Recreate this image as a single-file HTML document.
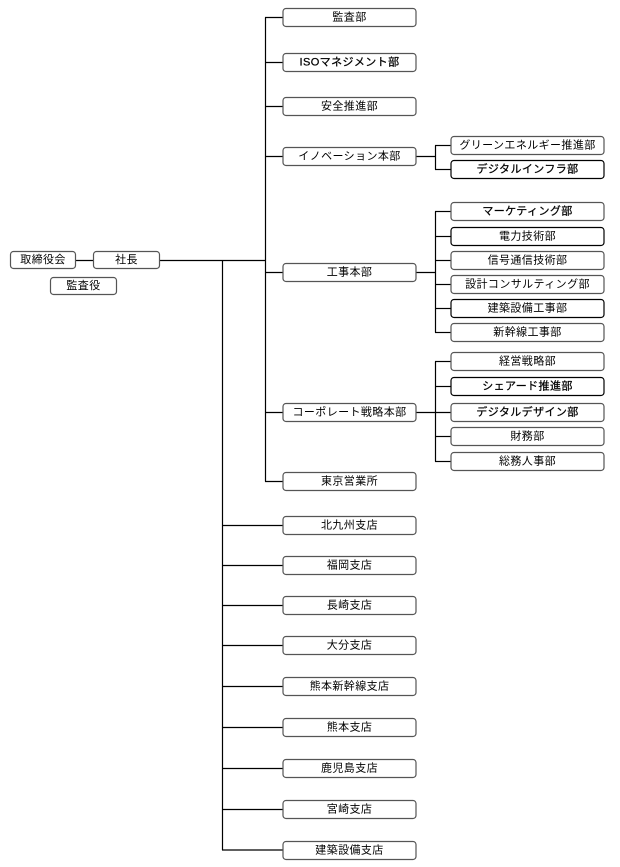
<!DOCTYPE html>
<html><head><meta charset="utf-8"><style>
html,body{margin:0;padding:0;background:#fff;}
svg{display:block;}
text{font-family:"Liberation Sans","Noto Sans CJK JP",sans-serif;font-size:11px;fill:#000;text-anchor:middle;dominant-baseline:central;letter-spacing:0.4px;}
text.b{stroke:#000;stroke-width:0.25;}
rect{fill:#fff;stroke:#555;stroke-width:1.2;}
line,path{stroke:#000;stroke-width:1.2;fill:none;}
</style></head><body>
<svg width="620" height="867" viewBox="0 0 620 867">
<line x1="76" y1="260.5" x2="93" y2="260.5"/>
<line x1="160" y1="260.5" x2="265.5" y2="260.5"/>
<line x1="222.5" y1="260.5" x2="222.5" y2="850"/>
<line x1="265.5" y1="17.5" x2="265.5" y2="481.5"/>
<g>
<line x1="265" y1="17.5" x2="283" y2="17.5"/>
<line x1="265" y1="62.5" x2="283" y2="62.5"/>
<line x1="265" y1="106.5" x2="283" y2="106.5"/>
<line x1="265" y1="156.5" x2="283" y2="156.5"/>
<line x1="265" y1="272.5" x2="283" y2="272.5"/>
<line x1="265" y1="412.5" x2="283" y2="412.5"/>
<line x1="265" y1="481.5" x2="283" y2="481.5"/>
</g>
<g>
<line x1="222" y1="525.5" x2="283" y2="525.5"/>
<line x1="222" y1="565.5" x2="283" y2="565.5"/>
<line x1="222" y1="605.5" x2="283" y2="605.5"/>
<line x1="222" y1="645.5" x2="283" y2="645.5"/>
<line x1="222" y1="686.5" x2="283" y2="686.5"/>
<line x1="222" y1="727.5" x2="283" y2="727.5"/>
<line x1="222" y1="768.5" x2="283" y2="768.5"/>
<line x1="222" y1="809.5" x2="283" y2="809.5"/>
<line x1="222" y1="850" x2="283" y2="850"/>
</g>
<line x1="416" y1="156.5" x2="435.5" y2="156.5"/>
<line x1="435.5" y1="145.5" x2="435.5" y2="169.5"/>
<line x1="435" y1="145.5" x2="451" y2="145.5"/>
<line x1="435" y1="169.5" x2="451" y2="169.5"/>
<line x1="416" y1="272.5" x2="435.5" y2="272.5"/>
<line x1="435.5" y1="211.5" x2="435.5" y2="332.5"/>
<line x1="435" y1="211.5" x2="451" y2="211.5"/>
<line x1="435" y1="236.5" x2="451" y2="236.5"/>
<line x1="435" y1="260.5" x2="451" y2="260.5"/>
<line x1="435" y1="284.5" x2="451" y2="284.5"/>
<line x1="435" y1="308.5" x2="451" y2="308.5"/>
<line x1="435" y1="332.5" x2="451" y2="332.5"/>
<line x1="416" y1="412.5" x2="451" y2="412.5"/>
<line x1="435.5" y1="361.5" x2="435.5" y2="461.5"/>
<line x1="435" y1="361.5" x2="451" y2="361.5"/>
<line x1="435" y1="386.5" x2="451" y2="386.5"/>
<line x1="435" y1="436.5" x2="451" y2="436.5"/>
<line x1="435" y1="461.5" x2="451" y2="461.5"/>

<rect x="10.5" y="251.5" width="65" height="17" rx="3"/><text x="43" y="260">取締役会</text>
<rect x="93.5" y="251.5" width="66" height="17" rx="3"/><text x="126.5" y="260">社長</text>
<rect x="50.5" y="277.5" width="66" height="17" rx="3"/><text x="83.5" y="286">監査役</text>

<g>
<rect x="283" y="8.5" width="133" height="18" rx="3"/><text x="349.5" y="17.5">監査部</text>
<rect x="283" y="53.5" width="133" height="18" rx="3"/><text x="349.5" y="62.5" class="b">ISOマネジメント部</text>
<rect x="283" y="97.5" width="133" height="18" rx="3"/><text x="349.5" y="106.5">安全推進部</text>
<rect x="283" y="147.5" width="133" height="18" rx="3"/><text x="349.5" y="156.5">イノベーション本部</text>
<rect x="283" y="263.5" width="133" height="18" rx="3"/><text x="349.5" y="272.5">工事本部</text>
<rect x="283" y="403.5" width="133" height="18" rx="3"/><text x="349.5" y="412.5">コーポレート戦略本部</text>
<rect x="283" y="472.5" width="133" height="18" rx="3"/><text x="349.5" y="481.5">東京営業所</text>
<rect x="283" y="516.5" width="133" height="18" rx="3"/><text x="349.5" y="525.5">北九州支店</text>
<rect x="283" y="556.5" width="133" height="18" rx="3"/><text x="349.5" y="565.5">福岡支店</text>
<rect x="283" y="596.5" width="133" height="18" rx="3"/><text x="349.5" y="605.5">長崎支店</text>
<rect x="283" y="636.5" width="133" height="18" rx="3"/><text x="349.5" y="645.5">大分支店</text>
<rect x="283" y="677.5" width="133" height="18" rx="3"/><text x="349.5" y="686.5">熊本新幹線支店</text>
<rect x="283" y="718.5" width="133" height="18" rx="3"/><text x="349.5" y="727.5">熊本支店</text>
<rect x="283" y="759.5" width="133" height="18" rx="3"/><text x="349.5" y="768.5">鹿児島支店</text>
<rect x="283" y="800.5" width="133" height="18" rx="3"/><text x="349.5" y="809.5">宮崎支店</text>
<rect x="283" y="841.5" width="133" height="18" rx="3"/><text x="349.5" y="850.5">建築設備支店</text>
</g>

<g>
<rect x="451" y="136.5" width="153" height="18" rx="3"/><text x="527.5" y="145.5">グリーンエネルギー推進部</text>
<rect x="451" y="160.5" width="153" height="18" rx="3" style="stroke:#000"/><text x="527.5" y="169.5" class="b">デジタルインフラ部</text>
<rect x="451" y="202.5" width="153" height="18" rx="3"/><text x="527.5" y="211.5" class="b">マーケティング部</text>
<rect x="451" y="227.5" width="153" height="18" rx="3" style="stroke:#000"/><text x="527.5" y="236.5">電力技術部</text>
<rect x="451" y="251.5" width="153" height="18" rx="3"/><text x="527.5" y="260.5">信号通信技術部</text>
<rect x="451" y="275.5" width="153" height="18" rx="3"/><text x="527.5" y="284.5">設計コンサルティング部</text>
<rect x="451" y="299.5" width="153" height="18" rx="3" style="stroke:#000"/><text x="527.5" y="308.5">建築設備工事部</text>
<rect x="451" y="323.5" width="153" height="18" rx="3"/><text x="527.5" y="332.5">新幹線工事部</text>
<rect x="451" y="352.5" width="153" height="18" rx="3"/><text x="527.5" y="361.5">経営戦略部</text>
<rect x="451" y="377.5" width="153" height="18" rx="3" style="stroke:#000"/><text x="527.5" y="386.5" class="b">シェアード推進部</text>
<rect x="451" y="403.5" width="153" height="18" rx="3"/><text x="527.5" y="412.5" class="b">デジタルデザイン部</text>
<rect x="451" y="427.5" width="153" height="18" rx="3"/><text x="527.5" y="436.5">財務部</text>
<rect x="451" y="452.5" width="153" height="18" rx="3"/><text x="527.5" y="461.5">総務人事部</text>
</g>
</svg>
</body></html>
